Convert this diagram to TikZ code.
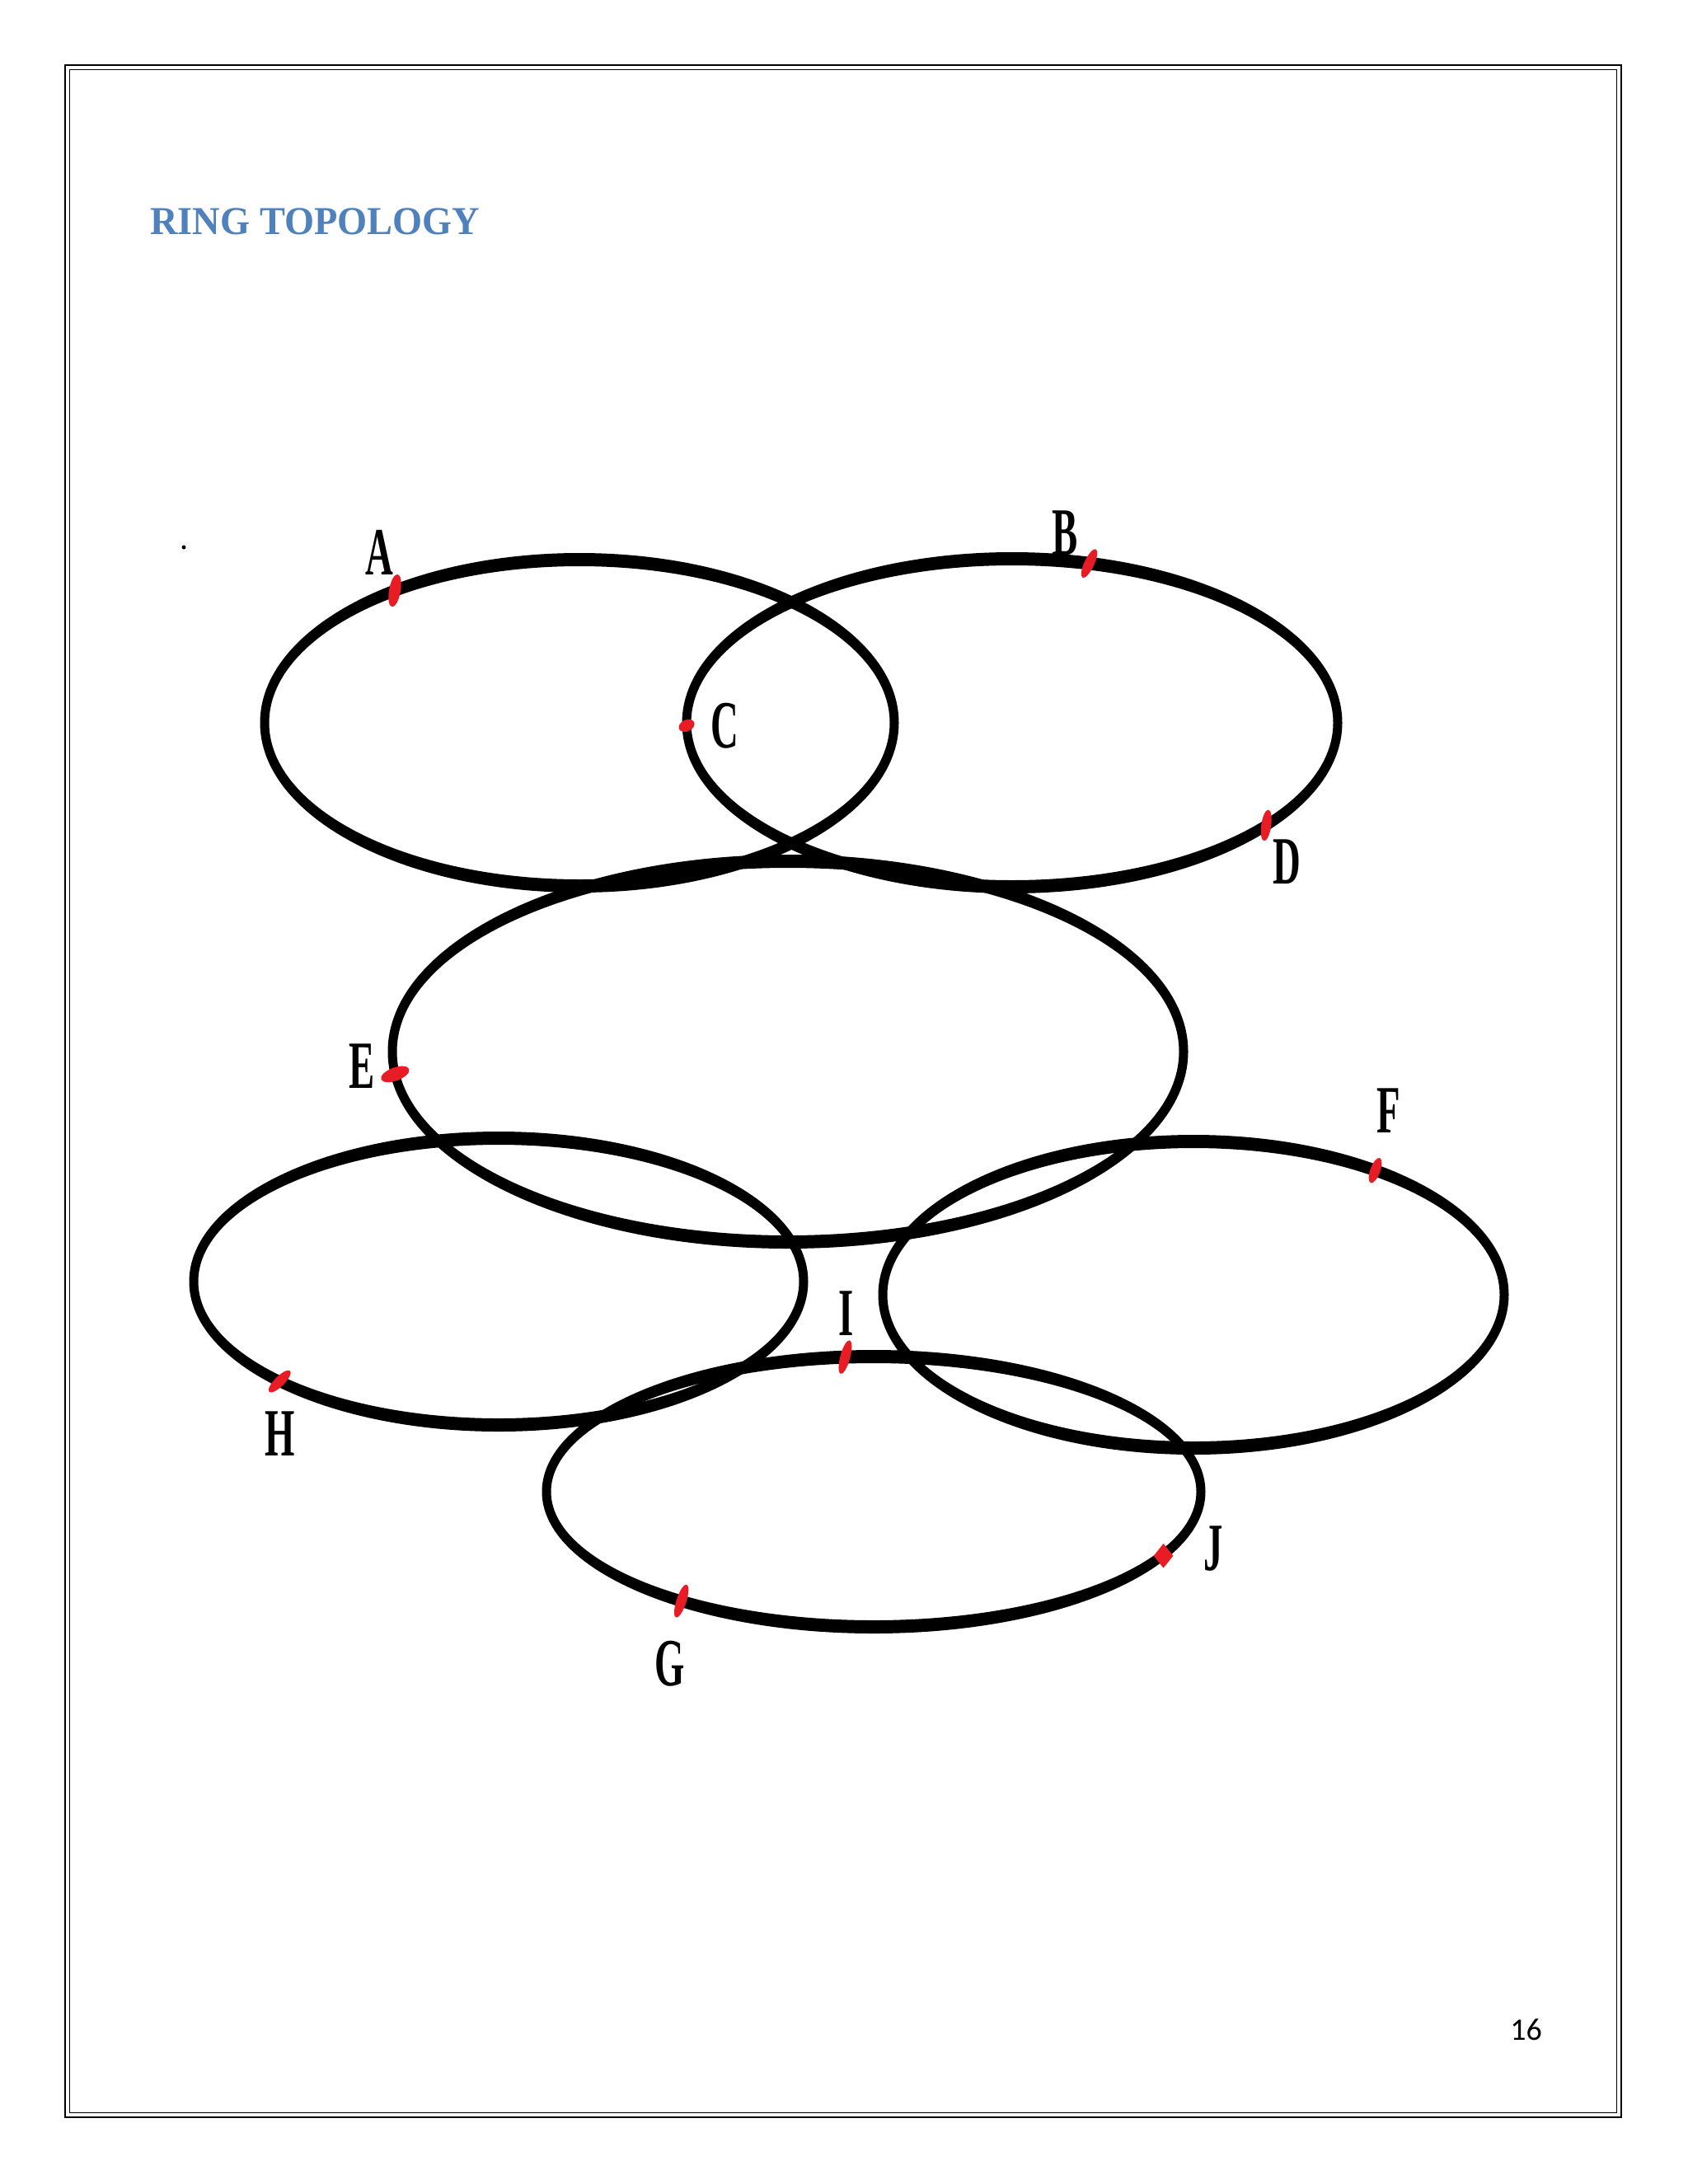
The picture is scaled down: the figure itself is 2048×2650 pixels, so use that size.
\documentclass[tikz,border=0pt]{standalone}
\usepackage{fontspec}
\setmainfont{Liberation Serif}
\newfontfamily\pagefont{Carlito}
\usetikzlibrary{shapes.geometric}
\definecolor{titleblue}{RGB}{79,129,189}
\definecolor{mkred}{RGB}{232,28,36}
\newcommand\ringshape[4]{% cx cy rx ry (pixels, y down)
  \fill[black,even odd rule] (#1,#2) ellipse [x radius={#3+5.5}, y radius={#4+8}]
                             (#1,#2) ellipse [x radius={#3-5.5}, y radius={#4-8}];}
\newcommand\lbl[1]{\scalebox{0.57}[1]{\bfseries #1}}
\tikzset{
  mk/.style={ellipse, fill=mkred, draw=none, inner sep=0pt, minimum width=6pt, minimum height=19pt},
  lab/.style={anchor=base, inner sep=0pt, font=\fontsize{41}{41}\selectfont},
}
\begin{document}
\begin{tikzpicture}[x=0.5pt,y=-0.5pt]
\useasboundingbox (0,0) rectangle (2048,2650);
\fill[white] (0,0) rectangle (2048,2650);
% page border (double line)
\draw[line width=1.1pt] (79,79) rectangle (1967,2569);
\draw[line width=0.7pt] (84.5,84.5) rectangle (1961.5,2563.5);
% title
\node[anchor=base west, inner sep=0pt, text=titleblue, font=\fontsize{24}{24}\selectfont\bfseries] (title) at (182,284) {\scalebox{0.966}[1]{RING TOPOLOGY}};
% page number
\node[anchor=base west, inner sep=0pt, font=\pagefont\fontsize{19}{19}\selectfont] (pnum) at (1832,2475) {16};
% stray dot
\node[circle, fill=black, inner sep=0pt, minimum size=2.5pt] (dot) at (223,664) {};
% rings
\ringshape{703}{877}{382}{198}
\ringshape{1228}{877}{395}{199}
\ringshape{956}{1276}{480}{231}
\ringshape{605}{1555}{370}{174}
\ringshape{1448}{1571}{377}{186}
\ringshape{1060}{1810}{397}{164}
% markers
\node[mk, minimum width=7pt, minimum height=20pt, rotate=-10] (mA) at ({703+382*cos(125.9)},{877-198*sin(125.9)}) {};
\node[mk, rotate=-25] (mB) at ({1228+395*cos(76.3)},{877-199*sin(76.3)}) {};
\node[mk, minimum width=10pt, minimum height=7pt, rotate=25] (mC) at ({1228+395*cos(181)},{877-199*sin(181)}) {};
\node[mk, rotate=-8] (mD) at ({1228+395*cos(-38.7)},{877-199*sin(-38.7)}) {};
\node[mk, minimum width=8pt, minimum height=18pt, rotate=-70] (mE) at ({956+480*cos(186.8)},{1276-231*sin(186.8)}) {};
\node[mk, minimum height=16pt, rotate=-20] (mF) at ({1448+377*cos(54.2)},{1571-186*sin(54.2)}) {};
\node[mk, minimum height=18pt, rotate=-45] (mH) at ({605+370*cos(224.1)},{1555-174*sin(224.1)}) {};
\node[mk, minimum height=21pt, rotate=-15] (mI) at ({1060+397*cos(95)},{1810-164*sin(95)}) {};
\node[diamond, fill=mkred, inner sep=0pt, minimum width=12pt, minimum height=15pt] (mJ) at ({1062+397*cos(-28.3)},{1810-164*sin(-28.3)}) {};
\node[mk, minimum height=21pt, rotate=-18] (mG) at ({1060+397*cos(234)},{1810-164*sin(234)}) {};
% labels
\node[lab] (lA) at (460,697) {\lbl{A}};
\node[lab] (lB) at (1292,673) {\lbl{B}};
\node[lab] (lC) at (879,907) {\lbl{C}};
\node[lab] (lD) at (1561,1072) {\lbl{D}};
\node[lab] (lE) at (439,1320) {\lbl{E}};
\node[lab] (lF) at (1685,1374) {\lbl{F}};
\node[lab] (lH) at (340,1766) {\lbl{H}};
\node[lab] (lI) at (1027,1620) {\lbl{I}};
\node[lab] (lJ) at (1472,1905) {\lbl{J}};
\node[lab] (lG) at (813,2045) {\lbl{G}};
\end{tikzpicture}
\end{document}
